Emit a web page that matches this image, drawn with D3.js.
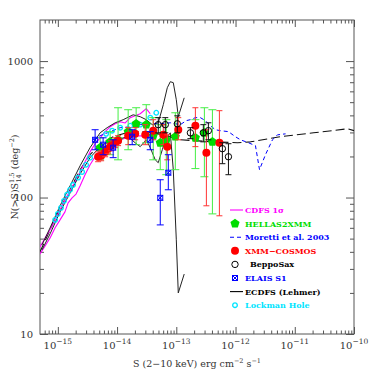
<!DOCTYPE html>
<html>
<head>
<meta charset="utf-8">
<script src="https://cdn.jsdelivr.net/npm/d3@7"></script>
<style>
  html, body { margin: 0; padding: 0; background: #fff; }
  svg { display: block; }
</style>
</head>
<body>
<svg id="chart"></svg>
<script>
const width = 374
const height = 374
const margin = { top: 20, right: 20, bottom: 40, left: 40 }

// flux S (erg cm^-2 s^-1) and N(>S)S^1.5 (deg^-2)
const model = [[5e-16,40],[7.4e-16,58],[1e-15,77],[1.61e-15,114],[2.38e-15,160],[3.5e-15,206],[5.18e-15,244],[8.59e-15,279],[1.67e-14,304],[3.11e-14,304],[6.03e-14,288],[1.17e-13,265],[4.23e-13,256],[1.08e-12,252],[1.79e-12,256],[5.75e-12,279],[2.08e-11,298],[7.8e-11,319],[1e-10,309]]

const cdfsUpper = [[5e-16,43.5],[6.1e-16,50.6],[7.4e-16,58],[9e-16,68.6],[1.09e-15,81.3],[1.32e-15,96.2],[1.61e-15,112],[1.95e-15,130],[2.38e-15,154],[2.88e-15,183],[3.5e-15,216],[4.26e-15,248],[5.18e-15,274],[6.29e-15,304],[7.64e-15,330],[9.29e-15,347],[1.13e-14,359],[1.37e-14,352],[1.67e-14,385],[2.02e-14,397],[2.46e-14,411],[3.11e-14,448],[3.63e-14,411]]
const cdfsLower = [[5e-16,38.6],[6.1e-16,44.2],[7.4e-16,50.6],[9e-16,60],[1.09e-15,68.6],[1.32e-15,78.5],[1.49e-15,91.4],[1.74e-15,99.5],[2.03e-15,106],[2.38e-15,122],[2.88e-15,147],[3.5e-15,174],[4.26e-15,199],[5.18e-15,224],[7.64e-15,244],[1.13e-14,265],[1.67e-14,279],[2.46e-14,284],[3.63e-14,274]]

const ecdfsUpper = [[5.4e-16,45],[7.4e-16,60],[1.09e-15,87],[1.61e-15,122],[2.38e-15,171],[3.5e-15,232],[5.18e-15,298],[6.8e-15,325],[9.29e-15,353],[1.27e-14,372],[1.87e-14,404],[2.46e-14,391],[3.11e-14,372],[3.93e-14,342],[4.96e-14,353],[6.03e-14,479],[7.05e-14,638],[7.92e-14,706],[8.89e-14,695],[1e-13,521],[1.08e-13,391],[1.36e-13,538]]
const ecdfsLower = [[5.4e-16,41.3],[7.4e-16,54.2],[1.09e-15,78.5],[1.61e-15,108],[2.38e-15,149],[3.5e-15,196],[5.18e-15,236],[7.64e-15,261],[1.13e-14,270],[1.54e-14,279],[2.02e-14,252],[2.46e-14,236],[3.11e-14,265],[3.63e-14,232],[4.41e-14,189],[4.96e-14,180],[5.8e-14,224],[6.78e-14,274],[7.92e-14,298],[8.89e-14,160],[1e-13,49],[1.08e-13,20],[1.36e-13,27.5]]

const moretti = [[3.94e-15,265],[5.18e-15,284],[7.64e-15,304],[1.13e-14,325],[1.67e-14,330],[2.46e-14,342],[3.63e-14,347],[5.36e-14,347],[7.92e-14,353],[1.17e-13,342],[1.47e-13,366],[1.73e-13,372],[2.1e-13,385],[2.55e-13,385],[3.1e-13,366],[3.76e-13,336],[4.57e-13,314],[5.55e-13,309],[7.59e-13,304],[9.96e-13,279],[1.21e-12,265],[1.65e-12,252],[2.17e-12,240],[2.54e-12,160],[3.2e-12,206],[4.2e-12,265],[5.1e-12,288],[7e-12,293]]

const lockman = [[9e-16,68.6],[1e-15,75.9],[1.13e-15,84],[1.27e-15,94.6],[1.43e-15,105],[1.61e-15,114],[1.81e-15,124],[2.2e-15,140],[2.57e-15,154],[3e-15,174],[3.5e-15,196],[6.54e-15,293],[8.26e-15,309],[1.13e-14,325],[1.67e-14,336],[2.46e-14,342],[3.63e-14,385],[4.59e-14,418]]

// [S, N, low, high]
const hellas = [[5.18e-15,232,189,274],[7.64e-15,256,206,304],[1.04e-14,265,189,455],[1.54e-14,304,224,440],[2.1e-14,347,244,455],[3.11e-14,342,252,479],[4.08e-14,284,189,385],[5.36e-14,252,160,342],[6.78e-14,265,147,372],[9.62e-14,279,160,418],[2.1e-13,274,163,372],[2.98e-13,298,142,455],[4.07e-13,256,75.9,440]]
const cosmos = [[4.79e-15,199,183,216],[5.38e-15,202,186,220],[6.29e-15,216,199,236],[7.08e-15,228,209,248],[7.94e-15,240,220,261],[9.29e-15,252,232,274],[1.04e-14,261,240,284],[1.54e-14,284,244,325],[2.02e-14,293,265,325],[2.99e-14,288,244,342],[4.08e-14,309,265,372],[6.03e-14,288,244,342],[7.05e-14,236,189,288],[1.08e-13,314,265,385],[2.1e-13,336,236,455],[3.22e-13,213,87,314],[5.34e-13,252,73.5,433]]
const beppo = [[4.96e-14,342,298,385],[6.52e-14,342,298,385],[1.04e-13,347,298,397],[1.73e-13,298,270,325],[2.86e-13,298,256,342],[3.48e-13,309,265,353],[6e-13,228,177,252],[7.59e-13,199,147,248]]
const elais = [[4.26e-15,265,224,314],[5.82e-15,244,206,274],[8.59e-15,232,196,265],[1.8e-14,279,244,314],[3.63e-14,265,224,304],[5.36e-14,99.5,63,135],[7.33e-14,152,114,206]]

const xTicks = [1e-15, 1e-14, 1e-13, 1e-12, 1e-11, 1e-10]
const xTickExp = ['−15', '−14', '−13', '−12', '−11', '−10']
const yTicks = [10, 100, 1000]
const yTickLabels = ['10', '100', '1000']

const legendItems = [
  { label: 'CDFS 1σ', color: '#ff00ff', kind: 'line' },
  { label: 'HELLAS2XMM', color: '#00dd00', kind: 'pentagon' },
  { label: 'Moretti et al. 2003', color: '#0000ff', kind: 'dash' },
  { label: 'XMM−COSMOS', color: '#ff0000', kind: 'dot' },
  { label: 'BeppoSax', color: '#000', kind: 'circle' },
  { label: 'ELAIS S1', color: '#0000ff', kind: 'elais' },
  { label: 'ECDFS (Lehmer)', color: '#000', kind: 'line' },
  { label: 'Lockman Hole', color: '#00e5ff', kind: 'small' },
]

const axisColor = '#555'
const textColor = '#333'
const serif = '"DejaVu Serif", serif'

const x = d3.scaleLog().domain([5e-16, 1e-10]).range([margin.left, width - margin.right])
const y = d3.scaleLog().domain([10, 2000]).range([height - margin.bottom, margin.top])

const svg = d3.select('#chart').attr('width', width).attr('height', height)

// minor tick positions
const xMinor = []
for (let e = -16; e < -10; e++) for (let k = 2; k < 10; k++) {
  const v = k * Math.pow(10, e)
  if (v > 5e-16 && v < 1e-10) xMinor.push(v)
}
const yMinor = []
for (let e = 1; e < 4; e++) for (let k = 2; k < 10; k++) {
  const v = k * Math.pow(10, e)
  if (v < 2000) yMinor.push(v)
}

const plotBottom = height - margin.bottom
const plotRight = width - margin.right

function tickAxis(axis, values, size, transform) {
  const g = svg.append('g').attr('transform', transform)
    .call(axis.tickValues(values).tickSize(-size).tickFormat(''))
  g.select('.domain').remove()
  g.selectAll('line').attr('stroke', axisColor)
}
tickAxis(d3.axisBottom(x), xMinor, 3.5, `translate(0,${plotBottom})`)
tickAxis(d3.axisBottom(x), xTicks, 7, `translate(0,${plotBottom})`)
tickAxis(d3.axisTop(x), xMinor, 3.5, `translate(0,${margin.top})`)
tickAxis(d3.axisTop(x), xTicks, 7, `translate(0,${margin.top})`)
tickAxis(d3.axisLeft(y), yMinor, 4, `translate(${margin.left},0)`)
tickAxis(d3.axisLeft(y), yTicks, 8, `translate(${margin.left},0)`)
tickAxis(d3.axisRight(y), yMinor, 4, `translate(${plotRight},0)`)
tickAxis(d3.axisRight(y), yTicks, 8, `translate(${plotRight},0)`)

svg.append('rect')
  .attr('x', margin.left).attr('y', margin.top)
  .attr('width', plotRight - margin.left).attr('height', plotBottom - margin.top)
  .attr('fill', 'none').attr('stroke', axisColor).attr('stroke-width', 1)

// tick labels
const xl = svg.append('g').attr('font-family', serif).attr('fill', textColor)
xTicks.forEach((v, i) => {
  const t = xl.append('text').attr('x', x(v)).attr('y', plotBottom + 15)
    .attr('text-anchor', 'middle').attr('font-size', 10)
  t.append('tspan').text('10')
  t.append('tspan').attr('dy', -5).attr('font-size', 7.5).text(xTickExp[i])
})
yTicks.forEach((v, i) => {
  xl.append('text').attr('x', margin.left - 7).attr('y', y(v) + 3.6)
    .attr('text-anchor', 'end').attr('font-size', 10).text(yTickLabels[i])
})

// axis titles
const xt = svg.append('text').attr('x', (margin.left + plotRight) / 2).attr('y', 367)
  .attr('text-anchor', 'middle').attr('font-family', serif).attr('font-size', 9.5).attr('fill', textColor)
xt.append('tspan').text('S (2−10 keV) erg cm')
xt.append('tspan').attr('dy', -4).attr('font-size', 6.5).text('−2')
xt.append('tspan').attr('dy', 4).text(' s')
xt.append('tspan').attr('dy', -4).attr('font-size', 6.5).text('−1')

const yt = svg.append('text')
  .attr('transform', `translate(18,${(margin.top + plotBottom) / 2}) rotate(-90)`)
  .attr('text-anchor', 'middle').attr('font-family', serif).attr('font-size', 9.5).attr('fill', textColor)
yt.append('tspan').text('N(>S)S')
yt.append('tspan').attr('dy', -4).attr('font-size', 6.5).text('1.5')
yt.append('tspan').attr('dx', -10).attr('dy', 7).attr('font-size', 6.5).text('14')
yt.append('tspan').attr('dx', 2).attr('dy', -3).text(' (deg')
yt.append('tspan').attr('dy', -4).attr('font-size', 6.5).text('−2')
yt.append('tspan').attr('dy', 4).text(')')

// plot body
const body = svg.append('g')
body.append('clipPath').attr('id', 'clip').append('rect')
  .attr('x', margin.left).attr('y', margin.top)
  .attr('width', plotRight - margin.left).attr('height', plotBottom - margin.top)
body.attr('clip-path', 'url(#clip)')

const line = d3.line().x(d => x(d[0])).y(d => y(d[1]))

function drawLine(data, color, w, dash) {
  body.append('path').datum(data).attr('d', line)
    .attr('fill', 'none').attr('stroke', color).attr('stroke-width', w)
    .attr('stroke-dasharray', dash || null).attr('stroke-linejoin', 'round')
}

drawLine(model, '#111', 1.1, '9,4')
drawLine(cdfsLower, '#ff00ff', 1.1)
drawLine(cdfsUpper, '#ff00ff', 1.1)
drawLine(ecdfsLower, '#222', 1)
drawLine(ecdfsUpper, '#222', 1)
drawLine(moretti, '#0000ff', 1, '4,3')

function pentagon(r) {
  const pts = d3.range(5).map(k => {
    const a = -Math.PI / 2 + k * 2 * Math.PI / 5
    return [r * Math.cos(a), r * Math.sin(a)]
  })
  return 'M' + pts.join('L') + 'Z'
}

function marker(g, kind, color) {
  if (kind === 'pentagon') g.append('path').attr('d', pentagon(4.8)).attr('fill', color)
  else if (kind === 'dot') g.append('circle').attr('r', 4).attr('fill', color)
  else if (kind === 'circle') g.append('circle').attr('r', 3.2).attr('fill', 'none').attr('stroke', color).attr('stroke-width', 1)
  else if (kind === 'small') g.append('circle').attr('r', 2.3).attr('fill', 'none').attr('stroke', color).attr('stroke-width', 1.3)
  else if (kind === 'elais') {
    g.append('rect').attr('x', -2.5).attr('y', -2.5).attr('width', 5).attr('height', 5)
      .attr('fill', 'none').attr('stroke', color).attr('stroke-width', 1)
    g.append('path').attr('d', 'M-2.5,-2.5L2.5,2.5M-2.5,2.5L2.5,-2.5').attr('stroke', color).attr('stroke-width', 1)
  }
}

function drawPoints(data, kind, color, barColor, cap) {
  const g = body.append('g')
  data.forEach(d => {
    if (d.length > 2) {
      g.append('line').attr('x1', x(d[0])).attr('x2', x(d[0]))
        .attr('y1', y(d[2])).attr('y2', y(d[3])).attr('stroke', barColor).attr('stroke-width', 1)
      ;[d[2], d[3]].forEach(v => {
        g.append('line').attr('x1', x(d[0]) - cap).attr('x2', x(d[0]) + cap)
          .attr('y1', y(v)).attr('y2', y(v)).attr('stroke', barColor).attr('stroke-width', 1)
      })
    }
    marker(g.append('g').attr('transform', `translate(${x(d[0])},${y(d[1])})`), kind, color)
  })
}

drawPoints(lockman, 'small', '#00e5ff', '#00e5ff', 0)
drawPoints(hellas, 'pentagon', '#00dd00', '#44ee44', 4)
drawPoints(cosmos, 'dot', '#ff0000', '#ff3333', 3)
drawPoints(beppo, 'circle', '#000', '#111', 3)
drawPoints(elais, 'elais', '#0000ff', '#0000ff', 3.5)

// legend
const lg = svg.append('g').attr('font-family', serif).attr('font-size', 8).attr('font-weight', 'bold')
legendItems.forEach((it, i) => {
  const yy = 210 + i * 13.6
  const g = lg.append('g').attr('transform', `translate(0,${yy})`)
  if (it.kind === 'line' || it.kind === 'dash') {
    g.append('line').attr('x1', 230).attr('x2', 243).attr('y1', 0).attr('y2', 0)
      .attr('stroke', it.color).attr('stroke-width', 1.1)
      .attr('stroke-dasharray', it.kind === 'dash' ? '4,3' : null)
  } else {
    marker(g.append('g').attr('transform', 'translate(235,0)'), it.kind, it.color)
  }
  g.append('text').attr('x', it.label === 'BeppoSax' ? 250 : 245).attr('y', 3)
    .attr('fill', it.color).text(it.label)
})
</script>
</body>
</html>
